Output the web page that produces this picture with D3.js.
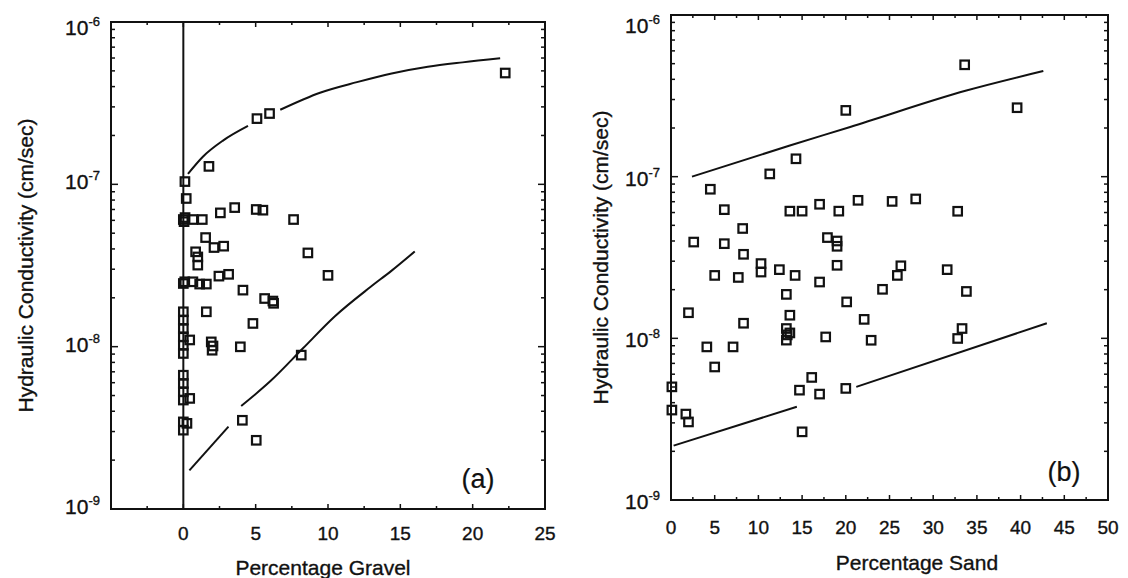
<!DOCTYPE html>
<html>
<head>
<meta charset="utf-8">
<script src="https://cdn.jsdelivr.net/npm/d3@7"></script>
<style>
  html, body { margin: 0; padding: 0; background: #fff; }
  svg { display: block; }
  text { font-family: "Liberation Sans", Arial, sans-serif; fill: #111; stroke: #111; stroke-width: 0.35px; }
</style>
</head>
<body>
<script>
// ---- panel (a): gravel ----
const gravelPct = [22.25, 5.09, 5.96, 1.77, 0.11, 0.2, 0, 0.12, 0.05, 0.66, 1.31, 2.56, 3.55, 5.04, 5.5, 7.62,
  1.54, 2.12, 2.79, 0.85, 1.0, 1.0, 2.46, 3.13, 8.61, 10.0, 0, 0.1, 0.66, 1.13, 1.59, 4.12, 5.62, 6.19, 6.24,
  1.59, 4.81, 1.93, 1.99, 2.05, 3.94, 8.15, 4.08, 5.04, 0.44, 0.44, 0.25,
  0, 0, 0, 0, 0, 0, 0, 0, 0, 0, 0, 0];
const gravelK = [4.85e-7, 2.54e-7, 2.73e-7, 1.29e-7, 1.04e-7, 8.18e-8, 6.07e-8, 6.24e-8, 5.89e-8, 6.07e-8, 6.07e-8, 6.67e-8, 7.19e-8, 7.00e-8, 6.93e-8, 6.07e-8,
  4.70e-8, 4.08e-8, 4.16e-8, 3.84e-8, 3.57e-8, 3.18e-8, 2.72e-8, 2.79e-8, 3.78e-8, 2.75e-8, 2.45e-8, 2.51e-8, 2.51e-8, 2.43e-8, 2.43e-8, 2.23e-8, 1.98e-8, 1.91e-8, 1.85e-8,
  1.64e-8, 1.39e-8, 1.07e-8, 9.51e-9, 1.01e-8, 9.98e-9, 8.87e-9, 3.52e-9, 2.65e-9, 1.10e-8, 4.80e-9, 3.37e-9,
  1.64e-8, 1.46e-8, 1.29e-8, 1.15e-8, 1.02e-8, 9.08e-9, 6.67e-9, 5.93e-9, 5.27e-9, 4.69e-9, 3.44e-9, 3.06e-9];

// envelope curves (broken where they pass the squares)
const gravelUpperA = { x: [0.32, 1.35, 2.74, 4.47], k: [1.16e-7, 1.48e-7, 1.86e-7, 2.29e-7] };
const gravelUpperB = { x: [6.7, 9.5, 12.0, 14.4, 16.9, 19.3, 21.9], k: [2.88e-7, 3.68e-7, 4.26e-7, 4.82e-7, 5.30e-7, 5.64e-7, 5.97e-7] };
const gravelLowerA = { x: [0.42, 3.12], k: [1.73e-9, 3.22e-9] };
const gravelLowerB = { x: [4.0, 6.06, 8.27, 10.48, 12.93, 14.4, 16.0], k: [4.31e-9, 6.18e-9, 9.77e-9, 1.54e-8, 2.33e-8, 2.94e-8, 3.86e-8] };

// ---- panel (b): sand ----
const sandPct = [33.6, 39.6, 20.0, 14.3, 11.3, 4.5, 6.1, 13.6, 15.0, 17.0, 19.2, 21.4, 25.3, 28.0, 32.8, 8.2, 2.6, 6.1,
  17.9, 19.0, 19.0, 8.3, 10.3, 10.3, 12.4, 19.0, 26.3, 25.9, 31.6, 5.0, 7.7, 14.2, 17.0, 24.2, 33.8, 13.2, 20.1, 2.0,
  13.6, 22.1, 8.3, 13.2, 13.6, 13.3, 13.2, 17.7, 33.3, 32.8, 22.9, 4.1, 7.1, 5.0, 0.1, 0.1, 1.7, 2.0, 14.7, 16.1, 17.0, 20.0, 15.0];
const sandK = [4.92e-7, 2.67e-7, 2.57e-7, 1.29e-7, 1.04e-7, 8.36e-8, 6.25e-8, 6.12e-8, 6.12e-8, 6.75e-8, 6.12e-8, 7.14e-8, 7.03e-8, 7.28e-8, 6.11e-8, 4.78e-8, 3.94e-8, 3.85e-8,
  4.20e-8, 4.00e-8, 3.71e-8, 3.31e-8, 2.90e-8, 2.57e-8, 2.66e-8, 2.83e-8, 2.81e-8, 2.45e-8, 2.66e-8, 2.45e-8, 2.38e-8, 2.45e-8, 2.23e-8, 2.01e-8, 1.95e-8, 1.87e-8, 1.68e-8, 1.44e-8,
  1.39e-8, 1.31e-8, 1.24e-8, 1.15e-8, 1.08e-8, 1.05e-8, 9.75e-9, 1.02e-8, 1.15e-8, 9.98e-9, 9.73e-9, 8.85e-9, 8.85e-9, 6.65e-9, 5.01e-9, 3.60e-9, 3.40e-9, 3.04e-9, 4.78e-9, 5.73e-9, 4.52e-9, 4.90e-9, 2.64e-9];

const sandUpper = { x: [2.4, 13.6, 20.5, 33.8, 42.6], k: [1.00e-7, 1.56e-7, 2.03e-7, 3.41e-7, 4.50e-7] };
const sandLowerA = { x: [0.3, 14.4], k: [2.17e-9, 3.77e-9] };
const sandLowerB = { x: [21.2, 43.0], k: [5.01e-9, 1.24e-8] };

// ---- axes ----
const kDecades = [1e-9, 1e-8, 1e-7, 1e-6];
const kExponents = ["-9", "-8", "-7", "-6"];
const gravelTicks = [0, 5, 10, 15, 20, 25];
const sandTicks = [0, 5, 10, 15, 20, 25, 30, 35, 40, 45, 50];

const width = 1128, height = 578;

const svg = d3.select("body").append("svg")
  .attr("width", width)
  .attr("height", height);

const panels = [
  {
    px: gravelPct, pk: gravelK, lines: [gravelUpperA, gravelUpperB, gravelLowerA, gravelLowerB],
    xDomain: [-5, 25], xTicks: gravelTicks,
    left: 111, right: 545, top: 22, bottom: 509,
    xLabelY: 540, xTitle: "Percentage Gravel", xTitleX: 323, xTitleY: 575,
    yTitleX: 33, yLabelDy: 5, yTopDy: 13,
    tag: "(a)", tagX: 478, tagY: 488, zeroLine: true
  },
  {
    px: sandPct, pk: sandK, lines: [sandUpper, sandLowerA, sandLowerB],
    xDomain: [0, 50], xTicks: sandTicks,
    left: 671, right: 1108, top: 15, bottom: 500,
    xLabelY: 534, xTitle: "Percentage Sand", xTitleX: 917, xTitleY: 570,
    yTitleX: 608, yLabelDy: 9, yTopDy: 18,
    tag: "(b)", tagX: 1064, tagY: 481, zeroLine: false
  }
];

panels.forEach(p => {
  const x = d3.scaleLinear().domain(p.xDomain).range([p.left, p.right]);
  const y = d3.scaleLog().domain([1e-9, 1e-6]).range([p.bottom, p.top]);
  const g = svg.append("g");

  // tick marks, pointing inward on all four sides
  const tk = g.append("g").attr("stroke", "#111").attr("stroke-width", 1.5);
  d3.range(p.xDomain[0], p.xDomain[1] + 0.01, 2.5).forEach(v => {
    const len = v % 5 === 0 ? 5 : 3;
    tk.append("line").attr("x1", x(v)).attr("x2", x(v)).attr("y1", p.bottom).attr("y2", p.bottom - len);
    tk.append("line").attr("x1", x(v)).attr("x2", x(v)).attr("y1", p.top).attr("y2", p.top + len);
  });
  y.ticks().forEach(v => {
    const major = Math.abs(Math.log10(v) - Math.round(Math.log10(v))) < 1e-6;
    const len = major ? 7 : 4;
    tk.append("line").attr("x1", p.left).attr("x2", p.left + len).attr("y1", y(v)).attr("y2", y(v));
    tk.append("line").attr("x1", p.right).attr("x2", p.right - len).attr("y1", y(v)).attr("y2", y(v));
  });

  // frame
  g.append("rect")
    .attr("x", p.left).attr("y", p.top)
    .attr("width", p.right - p.left).attr("height", p.bottom - p.top)
    .attr("fill", "none").attr("stroke", "#111").attr("stroke-width", 2);

  if (p.zeroLine) {
    g.append("line")
      .attr("x1", x(0)).attr("x2", x(0)).attr("y1", p.top).attr("y2", p.bottom)
      .attr("stroke", "#111").attr("stroke-width", 2);
  }

  // envelope curves
  const line = d3.line().x(d => x(d[0])).y(d => y(d[1])).curve(d3.curveMonotoneX);
  g.append("g")
    .attr("fill", "none").attr("stroke", "#111").attr("stroke-width", 2)
    .selectAll("path")
    .data(p.lines.map(s => d3.zip(s.x, s.k)))
    .join("path")
    .attr("d", line);

  // data squares
  g.append("g")
    .attr("fill", "none").attr("stroke", "#111").attr("stroke-width", 2.2)
    .selectAll("rect")
    .data(d3.zip(p.px, p.pk))
    .join("rect")
    .attr("x", d => x(d[0]) - 4.25)
    .attr("y", d => y(d[1]) - 4.25)
    .attr("width", 8.5).attr("height", 8.5);

  // x tick labels
  g.append("g")
    .attr("font-size", 19).attr("text-anchor", "middle")
    .selectAll("text")
    .data(p.xTicks)
    .join("text")
    .attr("x", d => x(d)).attr("y", p.xLabelY)
    .text(d => d);

  // y tick labels 10^n
  const yl = g.append("g").attr("text-anchor", "end")
    .selectAll("text")
    .data(kDecades)
    .join("text")
    .attr("x", p.left - 11)
    .attr("y", d => y(d) + (d === 1e-6 ? p.yTopDy : p.yLabelDy))
    .attr("font-size", 21);
  yl.append("tspan").text("10");
  yl.append("tspan").attr("font-size", 13).attr("dy", -9).text((d, i) => kExponents[i]);

  // titles
  g.append("text")
    .attr("x", p.xTitleX).attr("y", p.xTitleY)
    .attr("text-anchor", "middle").attr("font-size", 21)
    .text(p.xTitle);
  g.append("text")
    .attr("transform", `translate(${p.yTitleX},${(p.top + p.bottom) / 2}) rotate(-90)`)
    .attr("text-anchor", "middle").attr("font-size", 21)
    .text("Hydraulic Conductivity (cm/sec)");

  g.append("text")
    .attr("x", p.tagX).attr("y", p.tagY)
    .attr("text-anchor", "middle")
    .attr("font-family", "DejaVu Sans, sans-serif")
    .attr("font-size", 27)
    .style("stroke-width", "0.2px")
    .text(p.tag);
});
</script>
</body>
</html>
